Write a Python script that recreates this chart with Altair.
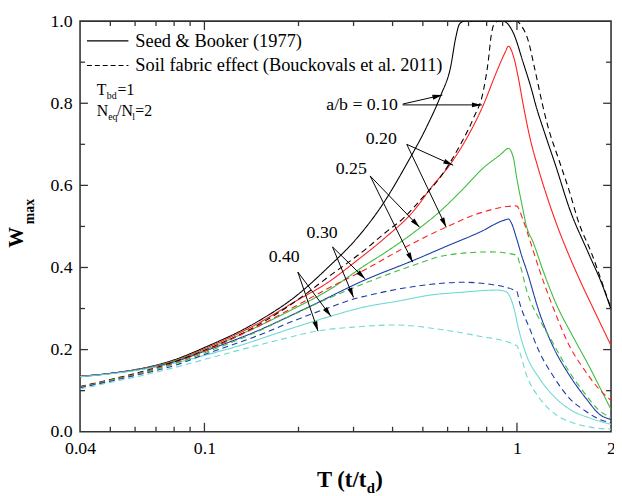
import math
import altair as alt
import pandas as pd

SERIF = "'Liberation Serif', 'Times New Roman', Times, 'DejaVu Serif', serif"
PW, PH = 538, 416
T_MIN, T_MAX = 0.04, 2.0

# ---------------- data ----------------
ratios = ["0.10", "0.20", "0.25", "0.30", "0.40"]
ratio_colors = ["#000000", "#ff1f1f", "#3dbd3d", "#1c3aa8", "#6ed8d2"]
models = ["Seed & Booker (1977)", "Soil fabric effect (Bouckovals et al. 2011)"]

# Seed & Booker (solid)
sb_010_T = [0.04, 0.05, 0.06, 0.07, 0.08, 0.1, 0.147, 0.196, 0.25, 0.304, 0.369, 0.446, 0.516, 0.571, 0.614, 0.637, 0.655, 0.68, 0.90, 0.93, 0.974, 1.047, 1.112, 1.154, 1.226, 1.334, 1.47, 1.70, 1.874, 2.0]
sb_010_W = [0.135, 0.142, 0.151, 0.162, 0.175, 0.205, 0.267, 0.330, 0.402, 0.467, 0.550, 0.655, 0.745, 0.820, 0.890, 0.960, 0.993, 1.0, 1.0, 0.995, 0.971, 0.899, 0.835, 0.790, 0.728, 0.645, 0.545, 0.432, 0.358, 0.298]

sb_020_T = [0.04, 0.05, 0.06, 0.07, 0.08, 0.1, 0.147, 0.196, 0.25, 0.304, 0.378, 0.470, 0.532, 0.614, 0.692, 0.783, 0.861, 0.918, 0.939, 0.974, 1.012, 1.048, 1.101, 1.168, 1.26, 1.34, 1.47, 1.61, 1.78, 2.0]
sb_020_W = [0.135, 0.142, 0.151, 0.161, 0.173, 0.202, 0.262, 0.318, 0.365, 0.414, 0.472, 0.540, 0.595, 0.653, 0.716, 0.798, 0.877, 0.925, 0.939, 0.915, 0.859, 0.795, 0.715, 0.643, 0.563, 0.505, 0.428, 0.360, 0.290, 0.210]

sb_025_T = [0.04, 0.05, 0.06, 0.07, 0.08, 0.1, 0.147, 0.196, 0.25, 0.326, 0.378, 0.488, 0.57, 0.664, 0.782, 0.886, 0.939, 0.974, 0.998, 1.036, 1.073, 1.126, 1.21, 1.33, 1.51, 1.70, 1.87, 2.0]
sb_025_W = [0.134, 0.142, 0.150, 0.160, 0.172, 0.199, 0.255, 0.302, 0.345, 0.405, 0.436, 0.496, 0.538, 0.587, 0.643, 0.675, 0.690, 0.667, 0.619, 0.555, 0.500, 0.462, 0.394, 0.314, 0.232, 0.160, 0.098, 0.054]

sb_030_T = [0.04, 0.05, 0.06, 0.07, 0.08, 0.1, 0.147, 0.216, 0.327, 0.469, 0.596, 0.76, 0.917, 0.94, 0.956, 0.998, 1.036, 1.073, 1.18, 1.30, 1.47, 1.66, 1.84, 2.0]
sb_030_W = [0.134, 0.142, 0.150, 0.159, 0.170, 0.196, 0.245, 0.304, 0.370, 0.418, 0.452, 0.486, 0.516, 0.518, 0.511, 0.470, 0.428, 0.394, 0.290, 0.210, 0.138, 0.082, 0.042, 0.030]

sb_040_T = [0.04, 0.05, 0.06, 0.07, 0.08, 0.1, 0.121, 0.196, 0.25, 0.326, 0.415, 0.531, 0.675, 0.857, 0.917, 0.974, 1.012, 1.073, 1.18, 1.33, 1.51, 1.70, 2.0]
sb_040_W = [0.134, 0.141, 0.149, 0.158, 0.167, 0.186, 0.203, 0.255, 0.280, 0.304, 0.318, 0.333, 0.340, 0.345, 0.342, 0.306, 0.250, 0.186, 0.130, 0.082, 0.050, 0.034, 0.018]

# Soil fabric effect (dashed)
sf_010_T = [0.04, 0.05, 0.06, 0.07, 0.08, 0.1, 0.147, 0.196, 0.25, 0.326, 0.378, 0.436, 0.493, 0.571, 0.661, 0.726, 0.78, 0.809, 0.827, 0.845, 0.87, 1.0, 1.03, 1.082, 1.14, 1.206, 1.26, 1.365, 1.468, 1.579, 1.73, 1.89, 2.0]
sf_010_W = [0.110, 0.127, 0.142, 0.156, 0.170, 0.198, 0.258, 0.318, 0.378, 0.443, 0.484, 0.522, 0.566, 0.622, 0.701, 0.764, 0.829, 0.901, 0.965, 0.993, 1.0, 1.0, 0.99, 0.957, 0.884, 0.798, 0.740, 0.660, 0.588, 0.508, 0.436, 0.354, 0.300]

sf_020_T = [0.04, 0.05, 0.06, 0.07, 0.08, 0.1, 0.147, 0.196, 0.25, 0.327, 0.436, 0.596, 0.763, 0.995, 1.048, 1.10, 1.18, 1.30, 1.47, 1.66, 1.82, 2.0]
sf_020_W = [0.109, 0.126, 0.140, 0.154, 0.167, 0.196, 0.255, 0.306, 0.350, 0.395, 0.448, 0.499, 0.533, 0.550, 0.514, 0.466, 0.394, 0.306, 0.210, 0.146, 0.106, 0.076]

sf_025_T = [0.04, 0.05, 0.06, 0.07, 0.08, 0.1, 0.147, 0.196, 0.25, 0.327, 0.469, 0.596, 0.823, 0.998, 1.02, 1.08, 1.18, 1.30, 1.47, 1.66, 1.82, 2.0]
sf_025_W = [0.108, 0.125, 0.139, 0.152, 0.165, 0.192, 0.243, 0.288, 0.325, 0.362, 0.406, 0.430, 0.438, 0.430, 0.410, 0.338, 0.274, 0.218, 0.146, 0.090, 0.054, 0.034]

sf_030_T = [0.04, 0.05, 0.06, 0.07, 0.08, 0.1, 0.147, 0.196, 0.25, 0.30, 0.326, 0.415, 0.531, 0.675, 0.82, 0.998, 1.02, 1.10, 1.18, 1.30, 1.47, 1.66, 1.84, 2.0]
sf_030_W = [0.107, 0.123, 0.137, 0.149, 0.161, 0.188, 0.233, 0.272, 0.302, 0.323, 0.330, 0.347, 0.359, 0.364, 0.359, 0.342, 0.314, 0.250, 0.194, 0.138, 0.082, 0.050, 0.030, 0.022]

sf_040_T = [0.04, 0.05, 0.06, 0.07, 0.08, 0.1, 0.121, 0.17, 0.232, 0.304, 0.406, 0.457, 0.581, 0.742, 0.998, 1.02, 1.073, 1.18, 1.33, 1.51, 1.75, 2.0]
sf_040_W = [0.104, 0.120, 0.133, 0.145, 0.156, 0.176, 0.193, 0.222, 0.246, 0.255, 0.260, 0.258, 0.248, 0.234, 0.210, 0.194, 0.138, 0.082, 0.042, 0.022, 0.010, 0.006]

# annotations (data coordinates)
label_text = ["a/b = 0.10", "0.20", "0.25", "0.30", "0.40"]
label_T = [0.416, 0.368, 0.295, 0.238, 0.180]
label_W = [0.796, 0.714, 0.639, 0.483, 0.425]

arrow_tail_T = [0.431, 0.431, 0.444, 0.444, 0.339, 0.339, 0.257, 0.257, 0.199, 0.199]
arrow_tail_W = [0.798, 0.796, 0.700, 0.700, 0.623, 0.623, 0.450, 0.450, 0.389, 0.389]
arrow_tip_T = [0.577, 0.772, 0.625, 0.594, 0.488, 0.464, 0.327, 0.300, 0.254, 0.231]
arrow_tip_W = [0.820, 0.796, 0.649, 0.498, 0.498, 0.413, 0.372, 0.327, 0.281, 0.245]

x_label_values = [0.04, 0.1, 1, 2]
y_label_values = [0.0, 0.2, 0.4, 0.6, 0.8, 1.0]
x_major_ticks = [0.1, 1.0]
x_minor_ticks = [0.05, 0.06, 0.07, 0.08, 0.09, 0.2, 0.3, 0.4, 0.5, 0.6, 0.7, 0.8, 0.9]
y_major_ticks = [0.2, 0.4, 0.6, 0.8]
y_minor_ticks = [0.1, 0.3, 0.5, 0.7, 0.9]

# ---------------- build tables ----------------
series = [
    ("0.10", models[0], sb_010_T, sb_010_W), ("0.20", models[0], sb_020_T, sb_020_W),
    ("0.25", models[0], sb_025_T, sb_025_W), ("0.30", models[0], sb_030_T, sb_030_W),
    ("0.40", models[0], sb_040_T, sb_040_W),
    ("0.10", models[1], sf_010_T, sf_010_W), ("0.20", models[1], sf_020_T, sf_020_W),
    ("0.25", models[1], sf_025_T, sf_025_W), ("0.30", models[1], sf_030_T, sf_030_W),
    ("0.40", models[1], sf_040_T, sf_040_W),
]
rows = []
for r, m, ts, ws in series:
    for t, w in zip(ts, ws):
        rows.append({"T": t, "W": w, "ratio": r, "model": m, "series": r + "|" + m})
df = pd.DataFrame(rows)


def px(t):
    return PW * math.log10(t / T_MIN) / math.log10(T_MAX / T_MIN)


def py(w):
    return PH * (1 - w)


arr = pd.DataFrame({"T": arrow_tail_T, "W": arrow_tail_W, "T2": arrow_tip_T, "W2": arrow_tip_W})
arr["ang"] = [
    (math.degrees(math.atan2(px(t2) - px(t1), -(py(w2) - py(w1)))) + 360) % 360
    for t1, w1, t2, w2 in zip(arrow_tail_T, arrow_tail_W, arrow_tip_T, arrow_tip_W)
]
labels = pd.DataFrame({"T": label_T, "W": label_W, "txt": label_text})

DUMMY = pd.DataFrame({"d": [0]})

# shared scales / axes (identical in every layer so they merge cleanly)
XS = alt.Scale(type="log", domain=[T_MIN, T_MAX], nice=False)
YS = alt.Scale(domain=[0, 1], nice=False)
XAX = alt.Axis(values=x_label_values, format="~g", title=None, labelPadding=8, labelFlush=False)
YAX = alt.Axis(values=y_label_values, format=".1f", title=None, labelPadding=8)


def X(field):
    return alt.X(field, scale=XS, axis=XAX)


def Y(field):
    return alt.Y(field, scale=YS, axis=YAX)


# ---------------- layers ----------------
lines = alt.Chart(df).mark_line(strokeWidth=1.1, interpolate="monotone", clip=True).encode(
    x=X("T:Q"), y=Y("W:Q"),
    color=alt.Color("ratio:N", scale=alt.Scale(domain=ratios, range=ratio_colors), legend=None),
    strokeDash=alt.StrokeDash("model:N", scale=alt.Scale(domain=models, range=[[1, 0], [6, 4]]), legend=None),
    detail="series:N",
)

layers = [lines]

TICK = dict(color="#333", strokeWidth=1.3)
for vals, ln in [(x_major_ticks, 9), (x_minor_ticks, 5)]:
    d = pd.DataFrame({"T": vals})
    layers.append(alt.Chart(d).mark_rule(**TICK).encode(
        x=X("T:Q"), y=alt.value(PH), y2=alt.value(PH - ln)))
    layers.append(alt.Chart(d).mark_rule(**TICK).encode(
        x=X("T:Q"), y=alt.value(0), y2=alt.value(ln)))
for vals, ln in [(y_major_ticks, 8), (y_minor_ticks, 5)]:
    d = pd.DataFrame({"W": vals})
    layers.append(alt.Chart(d).mark_rule(**TICK).encode(
        y=Y("W:Q"), x=alt.value(0), x2=alt.value(ln)))
    layers.append(alt.Chart(d).mark_rule(**TICK).encode(
        y=Y("W:Q"), x=alt.value(PW), x2=alt.value(PW - ln)))

# arrows
layers.append(alt.Chart(arr).mark_rule(color="black", strokeWidth=1.0).encode(
    x=X("T:Q"), y=Y("W:Q"), x2="T2:Q", y2="W2:Q"))
layers.append(alt.Chart(arr).mark_point(
    shape="M0,0L-0.5,2L0.5,2Z", filled=True, size=100, color="black", opacity=1).encode(
    x=X("T2:Q"), y=Y("W2:Q"), angle=alt.Angle("ang:Q", scale=None)))

# annotation labels
layers.append(alt.Chart(labels.iloc[[0]]).mark_text(
    font=SERIF, fontSize=18, align="right", baseline="middle", color="black").encode(
    x=X("T:Q"), y=Y("W:Q"), text="txt:N"))
layers.append(alt.Chart(labels.iloc[1:]).mark_text(
    font=SERIF, fontSize=18, align="center", baseline="middle", color="black").encode(
    x=X("T:Q"), y=Y("W:Q"), text="txt:N"))


def ptext(txt, x, y, size, bold=False, align="left", angle=None):
    kw = dict(text=txt, font=SERIF, fontSize=size, fontWeight="bold" if bold else "normal",
              align=align, baseline="middle", color="black")
    if angle is not None:
        kw["angle"] = angle
    return alt.Chart(DUMMY).mark_text(**kw).encode(x=alt.value(x), y=alt.value(y))


# legend
layers.append(alt.Chart(DUMMY).mark_rule(color="black", strokeWidth=1.1).encode(
    x=alt.value(7), x2=alt.value(49), y=alt.value(20)))
layers.append(alt.Chart(DUMMY).mark_rule(color="black", strokeWidth=1.1, strokeDash=[5, 3]).encode(
    x=alt.value(7), x2=alt.value(49), y=alt.value(45)))
layers.append(ptext(models[0], 56, 20, 18.6))
layers.append(ptext(models[1], 56, 45, 18.6))

# parameter notes
layers += [
    ptext("T", 17, 70, 16), ptext("bd", 27, 76, 10), ptext("=1", 38, 70, 16),
    ptext("N", 17, 91, 16), ptext("eq", 28.5, 97, 10), ptext("/N", 37.5, 91, 16),
    ptext("l", 53, 97, 10), ptext("=2", 56, 91, 16),
]

# axis titles
layers += [
    ptext("T (t/t", 290, 465, 23, bold=True, align="right"),
    ptext("d", 290.5, 473, 15, bold=True),
    ptext(")", 299, 465, 23, bold=True),
    ptext("W", -64, 219, 21, bold=True, align="center", angle=270),
    ptext("max", -51, 193, 14, bold=True, align="center", angle=270),
]

chart = alt.layer(*layers).properties(
    width=PW, height=PH,
    autosize=alt.AutoSizeParams(type="none"),
    padding={"left": 73, "top": 10, "right": 3, "bottom": 76},
).configure_axis(
    labelFont=SERIF, labelFontSize=18, labelColor="black", grid=False, ticks=False, domain=False,
).configure_view(stroke="#333", strokeWidth=1.6)

chart.save("out.html", embed_options={"renderer": "svg", "actions": False})
